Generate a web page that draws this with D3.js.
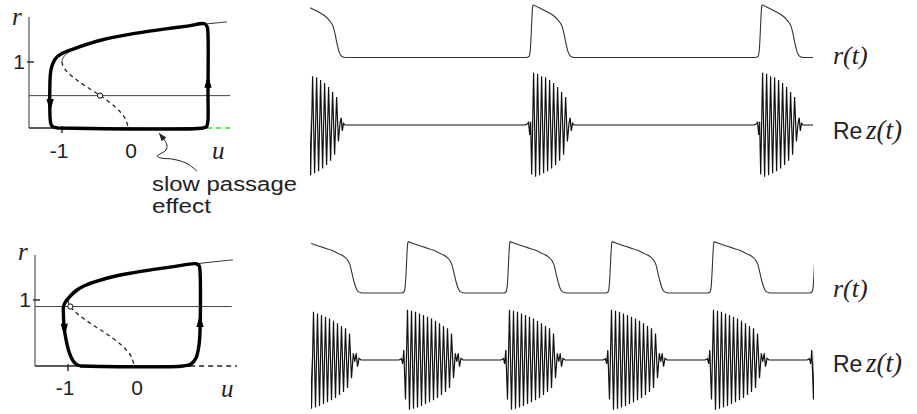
<!DOCTYPE html>
<html>
<head>
<meta charset="utf-8">
<script src="https://cdn.jsdelivr.net/npm/d3@7"></script>
<style>
  body { margin: 0; background: #fff; }
  svg { display: block; }
  .sans { font-family: "Liberation Sans", Arial, Helvetica, sans-serif; fill: #222; }
  .ital { font-family: "Liberation Serif", "Times New Roman", serif; font-style: italic; fill: #222; }
</style>
</head>
<body>
<svg id="fig" width="917" height="414"></svg>
<script>
// phase plane curves, (u, r)
var upper_branch = [[-1, 1], [-0.99, 1.049], [-0.96, 1.095], [-0.91, 1.14], [-0.84, 1.183],
  [-0.75, 1.225], [-0.6, 1.278], [-0.4, 1.332], [-0.2, 1.376], [0, 1.414], [0.3, 1.463],
  [0.6, 1.505], [0.9, 1.542], [1.2, 1.576], [1.5, 1.606]];
var middle_branch = [[-1, 1], [-0.99, 0.949], [-0.96, 0.894], [-0.91, 0.837], [-0.84, 0.775],
  [-0.75, 0.707], [-0.64, 0.632], [-0.51, 0.548], [-0.36, 0.447], [-0.19, 0.316],
  [-0.1, 0.225], [-0.04, 0.14], [0, 0.02]];

var cycle_top = [[-1.06, 0], [1.136, 0], [1.19, 0.02], [1.21, 0.1], [1.212, 0.5], [1.212, 1.41],
  [1.2, 1.53], [1.16, 1.578], [0.9, 1.542], [0.6, 1.505], [0.3, 1.463], [0, 1.414],
  [-0.4, 1.332], [-0.75, 1.225], [-0.9, 1.17], [-0.985, 1.136], [-1.076, 1.076],
  [-1.136, 0.985], [-1.167, 0.879], [-1.18, 0.758], [-1.18, 0.15], [-1.165, 0.05],
  [-1.12, 0.01], [-1.06, 0]];
var cycle_bottom = [[-0.818, 0], [0.742, 0], [0.864, 0.03], [0.939, 0.12], [0.985, 0.32],
  [1.0, 0.545], [1.0, 1.424], [0.985, 1.52], [0.94, 1.547], [0.6, 1.505], [0.3, 1.463],
  [0, 1.414], [-0.4, 1.332], [-0.75, 1.215], [-0.84, 1.165], [-0.92, 1.1], [-0.99, 1.03],
  [-1.05, 0.95], [-1.07, 0.88], [-1.07, 0.8], [-1.06, 0.6], [-1.03, 0.4], [-0.98, 0.2],
  [-0.93, 0.09], [-0.88, 0.03], [-0.818, 0]];

var level_top = 0.49, level_bottom = 0.9;
var eq_top = [-0.423, 0.49], eq_bottom = [-0.964, 0.9];
var arrows_top = [[-1.18, 0.35, "down"], [1.212, 0.70, "up"]];
var arrows_bottom = [[-1.055, 0.55, "down"], [1.0, 0.68, "up"]];
var slow_passage = [[0.47, -0.076], [0.53, -0.152], [0.59, -0.258], [0.576, -0.333],
  [0.485, -0.394], [0.44, -0.424], [0.5, -0.455], [0.667, -0.47], [0.879, -0.53], [1.045, -0.652]];
var x_ticks = [-1, 0];
var x_tick_labels = ["-1", "0"];

// time series: one period of r(t) around its peak, (dt, r)
var r_cycle_top = [[-7, 0], [-4, 0.03], [-2.8, 0.2], [-1.8, 0.7], [-1, 1.25], [-0.3, 1.55], [0, 1.59],
  [5, 1.52], [10, 1.45], [15, 1.37], [20, 1.28], [24, 1.17], [27, 1.06], [29, 0.95], [31, 0.72],
  [33, 0.42], [35, 0.18], [37, 0.06], [40, 0.01], [43, 0], [221, 0]];
var r_cycle_bottom = [[-6, 0], [-4, 0.03], [-2.8, 0.2], [-1.8, 0.7], [-1, 1.2], [-0.3, 1.5], [0, 1.55],
  [5, 1.5], [10, 1.45], [15, 1.4], [20, 1.35], [25, 1.3], [30, 1.23], [35, 1.16], [39, 1.08],
  [42, 0.98], [44, 0.85], [46, 0.6], [48, 0.35], [50, 0.15], [52, 0.05], [55, 0.01], [58, 0], [95, 0]];
// extrema of Re z(t) in one burst, (dt, value)
var z_burst_top = [[-8, 0], [-5.5, 0.04], [-4.4, 0.08], [-3.3, -0.3], [-2.4, 0.1], [-1.3, -1.5],
  [0.6, 1.58], [2.6, -1.57], [4.6, 1.55], [6.6, -1.52], [8.6, 1.48], [10.6, -1.46], [12.6, 1.45],
  [14.6, -1.4], [16.6, 1.36], [18.6, -1.32], [20.6, 1.27], [22.6, -1.21], [24.6, 1.15],
  [26.6, -1.08], [28.6, 1.0], [30.6, -0.9], [32.6, 0.85], [34.4, -0.5], [36.0, 0.05],
  [37.2, 0.22], [38.3, -0.18], [39.5, 0.05], [41, 0], [43, 0]];
var z_burst_bottom = [[-9, 0], [-6.5, 0.04], [-5.3, -0.12], [-4.2, 0.3], [-2.5, -1.2], [-0.5, 1.52],
  [1.5, -1.51], [3.5, 1.49], [5.5, -1.48], [7.5, 1.46], [9.5, -1.44], [11.5, 1.41], [13.5, -1.39],
  [15.5, 1.36], [17.5, -1.33], [19.5, 1.31], [21.5, -1.28], [23.5, 1.26], [25.5, -1.22],
  [27.5, 1.19], [29.5, -1.15], [31.5, 1.11], [33.5, -1.06], [35.5, 1.03], [37.5, -0.97],
  [39.5, 0.96], [41.5, -0.85], [43.5, 0.8], [45.5, -0.55], [47.3, 0.2], [48.8, -0.05],
  [50.2, 0.2], [51.5, -0.2], [53, 0.05], [55, 0]];
var peaks_top = [-6, 223, 452, 681];
var peaks_bottom = [-5, 97, 199, 301, 403, 505];

var svg = d3.select("#fig");

function draw_phase(g, o) {
  var x = o.x, y = o.y;
  var line = d3.line().x(d => x(d[0])).y(d => y(d[1]));
  var smooth = d3.line().x(d => x(d[0])).y(d => y(d[1])).curve(d3.curveCatmullRom.alpha(0.5));

  // axes
  g.append("line").attr("x1", x(x.domain()[0])).attr("x2", x(x.domain()[0]))
    .attr("y1", y(0)).attr("y2", y(y.domain()[1]))
    .attr("stroke", "#333").attr("stroke-width", 1);
  g.append("path").attr("d", line([[x.domain()[0], 0], [o.solid_end, 0]]))
    .attr("stroke", "#222").attr("stroke-width", 1.4).attr("fill", "none");
  g.append("path").attr("d", line([[o.solid_end, 0], [o.dash_end, 0]]))
    .attr("stroke", o.dash_color).attr("stroke-width", 1.6).attr("fill", "none")
    .attr("stroke-dasharray", "5,4");

  // ticks
  g.append("line").attr("x1", x(x.domain()[0]) - 2).attr("x2", x(x.domain()[0]) + 5)
    .attr("y1", y(1)).attr("y2", y(1)).attr("stroke", "#222").attr("stroke-width", 1.4);
  g.append("line").attr("x1", x(-1)).attr("x2", x(-1))
    .attr("y1", y(0) - 2).attr("y2", y(0) + 5).attr("stroke", "#222").attr("stroke-width", 1.4);

  // level line
  g.append("path").attr("d", line([[x.domain()[0], o.level], [o.level_end, o.level]]))
    .attr("stroke", "#444").attr("stroke-width", 1).attr("fill", "none");

  // branches
  g.append("path").attr("d", smooth(upper_branch))
    .attr("stroke", "#333").attr("stroke-width", 1).attr("fill", "none");
  g.append("path").attr("d", smooth(middle_branch))
    .attr("stroke", "#222").attr("stroke-width", 1.3).attr("fill", "none")
    .attr("stroke-dasharray", "4,3.5");

  // relaxation cycle
  g.append("path").attr("d", smooth(o.cycle))
    .attr("stroke", "#000").attr("stroke-width", 3.4).attr("fill", "none")
    .attr("stroke-linejoin", "round");

  // arrows
  o.arrows.forEach(function(a) {
    var cx = x(a[0]), cy = y(a[1]);
    var s = a[2] === "up" ? -1 : 1;
    g.append("path")
      .attr("d", "M" + cx + "," + (cy + 7 * s) + "L" + (cx - 3.6) + "," + (cy - 6 * s) +
        "L" + (cx + 3.6) + "," + (cy - 6 * s) + "Z")
      .attr("fill", "#000");
  });

  // equilibrium
  g.append("circle").attr("cx", x(o.eq[0])).attr("cy", y(o.eq[1])).attr("r", 2.6)
    .attr("fill", "#fff").attr("stroke", "#000").attr("stroke-width", 1);

  // labels
  g.append("text").attr("class", "ital").attr("x", o.r_label[0]).attr("y", o.r_label[1])
    .attr("font-size", 25).text("r");
  g.append("text").attr("class", "ital").attr("x", o.u_label[0]).attr("y", o.u_label[1])
    .attr("font-size", 25).text("u");
  g.append("text").attr("class", "sans").attr("x", x(x.domain()[0]) - 10).attr("y", y(1) + 7.5)
    .attr("text-anchor", "middle").attr("font-size", 21).text("1");
  x_ticks.forEach(function(t, i) {
    g.append("text").attr("class", "sans")
      .attr("x", x(t) + (t < 0 ? -3 : 3)).attr("y", y(0) + o.tick_dy)
      .attr("text-anchor", "middle").attr("font-size", 21).text(x_tick_labels[i]);
  });
}

// top phase plane
var xt = d3.scaleLinear().domain([-1.5, 1.55]).range([29, 230.3]);
var yt = d3.scaleLinear().domain([0, 1.68]).range([128, 17]);
var gt = svg.append("g");
draw_phase(gt, {
  x: xt, y: yt, cycle: cycle_top, level: level_top, level_end: 1.55, eq: eq_top,
  arrows: arrows_top, solid_end: 1.2, dash_end: 1.58, dash_color: "#22dd22",
  r_label: [12, 25], u_label: [212, 159], tick_dy: 30
});
// slow passage annotation
var sp = d3.line().x(d => xt(d[0])).y(d => yt(d[1])).curve(d3.curveCatmullRom.alpha(0.5));
gt.append("path").attr("d", sp(slow_passage))
  .attr("stroke", "#222").attr("stroke-width", 1).attr("fill", "none");
(function() {
  var p0 = [xt(slow_passage[0][0]), yt(slow_passage[0][1])];
  var p1 = [xt(slow_passage[1][0]), yt(slow_passage[1][1])];
  var a = Math.atan2(p0[1] - p1[1], p0[0] - p1[0]);
  var L = 8, W = 3;
  var bx = p0[0] - L * Math.cos(a), by = p0[1] - L * Math.sin(a);
  gt.append("path")
    .attr("d", "M" + p0[0] + "," + p0[1] +
      "L" + (bx + W * Math.sin(a)) + "," + (by - W * Math.cos(a)) +
      "L" + (bx - W * Math.sin(a)) + "," + (by + W * Math.cos(a)) + "Z")
    .attr("fill", "#222");
})();
gt.append("text").attr("class", "sans").attr("x", 152).attr("y", 191)
  .attr("font-size", 20).attr("textLength", 145).attr("lengthAdjust", "spacingAndGlyphs")
  .text("slow passage");
gt.append("text").attr("class", "sans").attr("x", 152).attr("y", 213)
  .attr("font-size", 20).attr("textLength", 59).attr("lengthAdjust", "spacingAndGlyphs")
  .text("effect");

// bottom phase plane
var xb = d3.scaleLinear().domain([-1.5, 1.56]).range([35, 237]);
var yb = d3.scaleLinear().domain([0, 1.68]).range([366, 255]);
draw_phase(svg.append("g"), {
  x: xb, y: yb, cycle: cycle_bottom, level: level_bottom, level_end: 1.48, eq: eq_bottom,
  arrows: arrows_bottom, solid_end: 0.85, dash_end: 1.56, dash_color: "#222",
  r_label: [18, 260], u_label: [221, 397], tick_dy: 29
});

// time series
function expand(shape, peaks) {
  var out = [];
  peaks.forEach(function(p) {
    shape.forEach(function(d) { out.push([p + d[0], d[1]]); });
  });
  return out;
}

function draw_series(o) {
  var g = svg.append("g");
  var clipId = "clip" + o.id;
  svg.append("clipPath").attr("id", clipId).append("rect")
    .attr("x", o.x.range()[0]).attr("y", 0)
    .attr("width", o.x.range()[1] - o.x.range()[0]).attr("height", 414);
  var gc = g.append("g").attr("clip-path", "url(#" + clipId + ")");

  var rline = d3.line().x(d => o.x(d[0])).y(d => o.yr(d[1])).curve(d3.curveMonotoneX);
  gc.append("path").attr("d", rline(expand(o.r_cycle, o.peaks)))
    .attr("stroke", "#333").attr("stroke-width", 1.1).attr("fill", "none");

  var zline = d3.line().x(d => o.x(d[0])).y(d => o.yz(d[1]));
  gc.append("path").attr("d", zline(expand(o.z_burst, o.peaks)))
    .attr("stroke", "#111").attr("stroke-width", 1.2).attr("fill", "none")
    .attr("stroke-linejoin", "miter");

  g.append("text").attr("class", "ital").attr("x", 833).attr("y", o.r_base)
    .attr("font-size", 26).text("r(t)");
  g.append("text").attr("class", "sans").attr("x", 833).attr("y", o.z_base)
    .attr("font-size", 23).text("Re");
  g.append("text").attr("class", "ital").attr("x", 866).attr("y", o.z_base)
    .attr("font-size", 27).text("z(t)");
}

draw_series({
  id: "top", x: d3.scaleLinear().domain([0, 503]).range([310, 813]),
  yr: d3.scaleLinear().domain([0, 1.6]).range([57.5, 4.7]),
  yz: d3.scaleLinear().domain([-1.6, 1.6]).range([177.8, 72.2]),
  r_cycle: r_cycle_top, z_burst: z_burst_top, peaks: peaks_top,
  r_base: 64, z_base: 139
});
draw_series({
  id: "bottom", x: d3.scaleLinear().domain([0, 503]).range([311, 814]),
  yr: d3.scaleLinear().domain([0, 1.6]).range([293, 240.2]),
  yz: d3.scaleLinear().domain([-1.6, 1.6]).range([412.8, 307.2]),
  r_cycle: r_cycle_bottom, z_burst: z_burst_bottom, peaks: peaks_bottom,
  r_base: 297, z_base: 372
});
</script>
</body>
</html>
